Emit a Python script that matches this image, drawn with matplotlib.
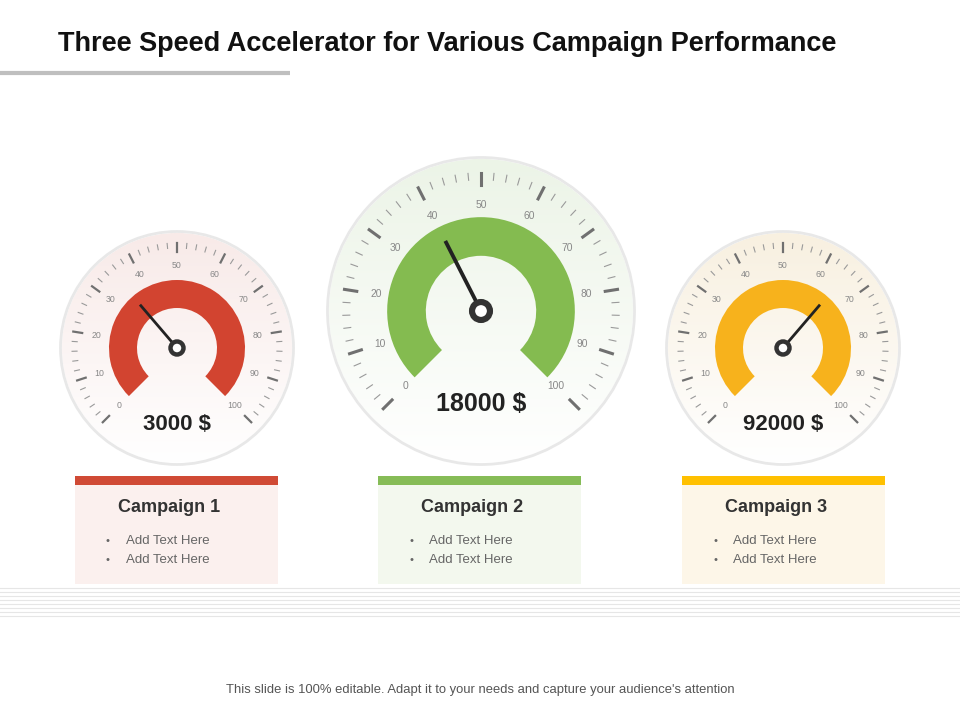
import numpy as np
import matplotlib.pyplot as plt
from matplotlib.patches import Wedge, Circle, Rectangle

plt.rcParams["font.family"] = "Liberation Sans"

# Data
campaigns = ["Campaign 1", "Campaign 2", "Campaign 3"]
needle_values = [35, 40, 65]
amounts = ["3000 $", "18000 $", "92000 $"]
tick_labels = [0, 10, 20, 30, 40, 50, 60, 70, 80, 90, 100]
bullets = ["Add Text Here", "Add Text Here"]

arc_colors = ["#D24430", "#84BB50", "#F7B21C"]
bar_colors = ["#D04A35", "#86BC57", "#FFC000"]
box_colors = ["#FBF0EE", "#F3F8EE", "#FDF6E8"]
face_colors = ["#F8EAE8", "#ECF4E7", "#F8F0E0"]

fig = plt.figure(figsize=(9.6, 7.2), dpi=100)
ax = fig.add_axes([0, 0, 1, 1])
ax.set_xlim(0, 960)
ax.set_ylim(720, 0)
ax.axis("off")


def ang(v):
    return np.radians(225 - 2.7 * v)


def draw_gauge(cx, cy, R, s, val, amount, color, face, ty, tsize):
    # face with vertical gradient (colored at top, white at bottom)
    grad = np.linspace(0, 1, 200)[:, None]
    c = np.array(plt.matplotlib.colors.to_rgb(face))
    img = c[None, None, :] * (1 - grad[..., None]) + np.ones(3)[None, None, :] * grad[..., None]
    img = np.repeat(img, 2, axis=1)
    im = ax.imshow(img, extent=[cx - R, cx + R, cy + R, cy - R], zorder=1)
    clip = Circle((cx, cy), R, transform=ax.transData)
    im.set_clip_path(clip)
    ax.add_patch(Circle((cx, cy), R + 1.5, fc="none", ec="#E8E8E8", lw=2, zorder=1))
    # ticks
    for v in range(0, 101, 2):
        a = ang(v)
        major = v % 10 == 0
        r0 = R - 19 * s if major else R - 15 * s
        r1 = R - 10 * s
        ax.plot([cx + r0 * np.cos(a), cx + r1 * np.cos(a)],
                [cy - r0 * np.sin(a), cy - r1 * np.sin(a)],
                color="#707070" if major else "#9A9A9A", lw=1.6 * s if major else 0.8, zorder=2)
    for v in tick_labels:
        a = ang(v)
        r = R - 33 * s
        ax.text(cx + r * np.cos(a), cy - r * np.sin(a), str(v), fontsize=6.3 * s ** 0.5,
                color="#888888", ha="center", va="center", zorder=2)
    # colored arc (y axis inverted, so angles are mirrored)
    ax.add_patch(Wedge((cx, cy), 68 * s, 135, 405, width=28 * s, fc=color, ec="none", zorder=3))
    # needle
    a = ang(val)
    rn = 57 * s
    ax.plot([cx, cx + rn * np.cos(a)], [cy, cy - rn * np.sin(a)], color="#222222",
            lw=2.0 * s, solid_capstyle="butt", zorder=4)
    ax.add_patch(Circle((cx, cy), 6.5 * s, fc="white", ec="#333333", lw=3.2 * s, zorder=5))
    ax.text(cx, ty, amount, fontsize=tsize, fontweight="bold", color="#222222",
            ha="center", va="center", zorder=6)


draw_gauge(177, 348, 115, 1.0, needle_values[0], amounts[0], arc_colors[0], face_colors[0], 425, 16)
draw_gauge(481, 311, 152, 1.38, needle_values[1], amounts[1], arc_colors[1], face_colors[1], 404, 18)
draw_gauge(783, 348, 115, 1.0, needle_values[2], amounts[2], arc_colors[2], face_colors[2], 425, 16)

# info boxes
box_x = [75, 378, 682]
for i, x in enumerate(box_x):
    ax.add_patch(Rectangle((x, 484), 203, 100, fc=box_colors[i], ec="none", zorder=1))
    ax.add_patch(Rectangle((x, 476), 203, 9, fc=bar_colors[i], ec="none", zorder=2))
    ax.text(x + 94, 507, campaigns[i], fontsize=13, fontweight="bold", color="#333333",
            ha="center", va="center")
    for j, b in enumerate(bullets):
        y = 541 + j * 19
        ax.text(x + 33, y, "\u2022", fontsize=8, color="#666666", ha="center", va="center")
        ax.text(x + 51, y, b, fontsize=9.5, color="#666666", ha="left", va="center")

# title
ax.text(58, 44, "Three Speed Accelerator for Various Campaign Performance", fontsize=19.5,
        fontweight="bold", color="#111111", ha="left", va="center")
ax.plot([0, 290], [73, 73], color="#BFBFBF", lw=3, solid_capstyle="butt")

# decorative lines at bottom
for k in range(8):
    y = 588 + k * 4
    ax.plot([0, 960], [y, y], color="#E6E6E6", lw=0.8)

ax.text(480, 690, "This slide is 100% editable. Adapt it to your needs and capture your audience's attention",
        fontsize=9.4, color="#555555", ha="center", va="center")

fig.savefig("out.png", dpi=100)
